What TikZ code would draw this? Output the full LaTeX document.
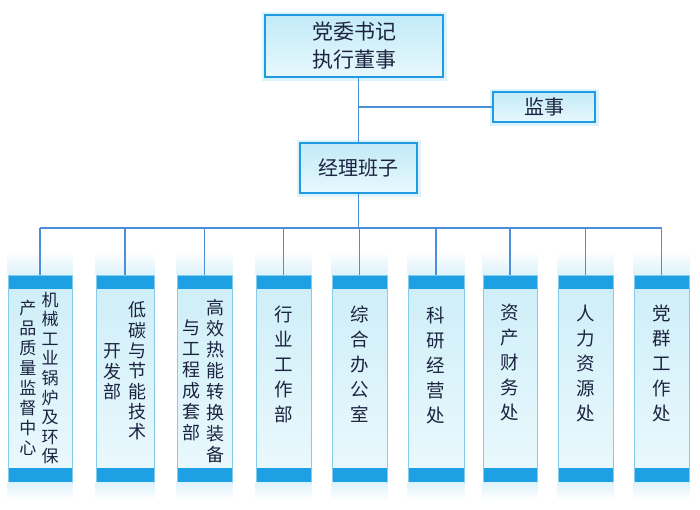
\documentclass[tikz,border=0pt]{standalone}
\usepackage{fontspec}
\setmainfont{Noto Sans CJK SC}
\usepackage{xcolor}

\definecolor{lineblue}{HTML}{4A8FD8}
\definecolor{boxblue}{HTML}{1E9BE3}
\definecolor{boxtop}{HTML}{C2EBF8}
\definecolor{boxbot}{HTML}{E8F8FD}
\definecolor{glow}{HTML}{DDF3FB}
\definecolor{band}{HTML}{1DA0E4}
\definecolor{colline}{HTML}{86CBEA}
\definecolor{coltop}{HTML}{CDEEF8}
\definecolor{colbot}{HTML}{EBF9FD}
\definecolor{ink}{HTML}{1C2340}

\tikzset{
  topbox/.style={draw=boxblue, line width=2.2pt, top color=boxtop, bottom color=boxbot,
    preaction={draw=glow, line width=7pt}, align=center, text=ink, inner sep=0pt},
  colbox/.style={draw=colline, line width=0.6pt, top color=coltop, bottom color=colbot,
    minimum height=207pt, inner sep=0pt,
    path picture={
      \fill[band] (path picture bounding box.north west) rectangle ([yshift=-14pt]path picture bounding box.north east);
      \fill[band] ([yshift=14pt]path picture bounding box.south west) rectangle (path picture bounding box.south east);
    }},
  vtext/.style={align=center, inner sep=0pt, text=ink, font=\fontsize{18.5}{25}\selectfont},
  link/.style={draw=lineblue, line width=1.8pt}
}

\begin{document}
\begin{tikzpicture}[x=1pt, y=-1pt]
  \useasboundingbox (0,0) rectangle (700,509);

  % Top boxes
  \node[topbox, minimum width=178pt, minimum height=62pt, font=\fontsize{21}{28}\selectfont] (sec) at (354,46) {党委书记\\执行董事};
  \node[topbox, minimum width=102pt, minimum height=30pt, font=\fontsize{20}{24}\selectfont] (sup) at (544,107) {监事};
  \node[topbox, minimum width=117pt, minimum height=50pt, font=\fontsize{20}{24}\selectfont] (mgr) at (358.5,168) {经理班子};

  % Department columns
  \node[colbox, minimum width=64pt] (c1) at (40,378.5) {};
  \node[colbox, minimum width=58pt] (c2) at (125,378.5) {};
  \node[colbox, minimum width=55pt] (c3) at (204.5,378.5) {};
  \node[colbox, minimum width=55pt] (c4) at (283.5,378.5) {};
  \node[colbox, minimum width=55pt] (c5) at (359.5,378.5) {};
  \node[colbox, minimum width=56pt] (c6) at (436,378.5) {};
  \node[colbox, minimum width=54pt] (c7) at (510,378.5) {};
  \node[colbox, minimum width=55pt] (c8) at (585.5,378.5) {};
  \node[colbox, minimum width=55pt] (c9) at (661.5,378.5) {};

  % Soft fades above and below each column
  \foreach \c in {c1,c2,c3,c4,c5,c6,c7,c8,c9} {
    \shade[top color=white, bottom color=glow] ([yshift=24pt]\c.north west) rectangle (\c.north east);
    \shade[top color=glow, bottom color=white] (\c.south west) rectangle ([yshift=-18pt]\c.south east);
  }

  % Column texts
  \node[vtext, font=\fontsize{17}{19.6}\selectfont] (t1a) at (50,378) {机\\械\\工\\业\\锅\\炉\\及\\环\\保};
  \node[vtext, font=\fontsize{17}{20}\selectfont] (t1b) at (28,378) {产\\品\\质\\量\\监\\督\\中\\心};
  \node[vtext, font=\fontsize{18}{20.3}\selectfont] (t2a) at (137,371) {低\\碳\\与\\节\\能\\技\\术};
  \node[vtext, font=\fontsize{18}{20.3}\selectfont] (t2b) at (112,372) {开\\发\\部};
  \node[vtext, font=\fontsize{18}{21}\selectfont] (t3a) at (215,381) {高\\效\\热\\能\\转\\换\\装\\备};
  \node[vtext, font=\fontsize{18}{21}\selectfont] (t3b) at (191,380) {与\\工\\程\\成\\套\\部};
  \node[vtext] (t4) at (283.5,364) {行\\业\\工\\作\\部};
  \node[vtext] (t5) at (359.5,364) {综\\合\\办\\公\\室};
  \node[vtext] (t6) at (436,365) {科\\研\\经\\营\\处};
  \node[vtext] (t7) at (510,363) {资\\产\\财\\务\\处};
  \node[vtext] (t8) at (585.5,363) {人\\力\\资\\源\\处};
  \node[vtext] (t9) at (661.5,363) {党\\群\\工\\作\\处};

  % Connectors
  \coordinate (bus) at (358.5,228);
  \draw[link] (mgr.north |- sec.south) -- (mgr.north);
  \draw[link] (mgr.north |- sup.west) -- (sup.west);
  \draw[link] (mgr.south) -- (bus);
  \draw[link] (c1.north |- bus) -- (c9.north |- bus);
  \draw[link] (c1.north |- bus) -- (c1.north);
  \draw[link] (c2.north |- bus) -- (c2.north);
  \draw[link] (c3.north |- bus) -- (c3.north);
  \draw[link] (c4.north |- bus) -- (c4.north);
  \draw[link] (c5.north |- bus) -- (c5.north);
  \draw[link] (c6.north |- bus) -- (c6.north);
  \draw[link] (c7.north |- bus) -- (c7.north);
  \draw[link] (c8.north |- bus) -- (c8.north);
  \draw[link] (c9.north |- bus) -- (c9.north);
\end{tikzpicture}
\end{document}
